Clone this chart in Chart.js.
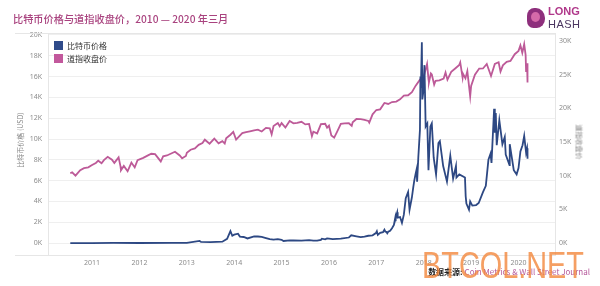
<!DOCTYPE html>
<html>
<head>
<meta charset="utf-8">
<script src="https://cdn.jsdelivr.net/npm/chart.js@4"></script>
<style>
  html, body { margin: 0; padding: 0; background: #fff; }
  #wrap { position: relative; width: 600px; height: 286px; overflow: hidden; font-family: "Noto Sans CJK SC", "Noto Sans", sans-serif; }
  #c { position: absolute; left: 0; top: 0; }
  .abs { position: absolute; white-space: nowrap; }
  #title { left: 13px; top: 11px; font-size: 10.2px; color: #a9437f; font-weight: 500; }
  .leg { font-size: 8px; color: #333; }
  .sw { position: absolute; width: 9px; height: 9px; }
  .axt { font-size: 7px; color: #888; transform-origin: center center; }
  #src { right: 10px; top: 266px; font-size: 8px; color: #b5589a; }
  #src b { color: #222; }
  #wm { left: 422px; top: 245px; font-family: "Liberation Sans", sans-serif; font-size: 37px; color: rgba(242,135,60,0.8); transform: scaleX(0.78); transform-origin: left top; }
  #logoIcon { left: 527px; top: 8px; width: 18px; height: 20px; background: #8e2f7c; border-radius: 40% 50% 45% 35%; }
  #logoIcon2 { left: 531px; top: 12px; width: 9px; height: 10px; background: #d56aa9; border-radius: 50%; }
  #lLong { left: 548px; top: 5px; font-family: "Liberation Sans", sans-serif; font-weight: bold; font-size: 11px; color: #b0388a; }
  #lHash { left: 548px; top: 18px; font-family: "Liberation Sans", sans-serif; font-size: 11px; color: #4a3560; letter-spacing: 0.5px; }
</style>
</head>
<body>
<div id="wrap">
  <canvas id="c" width="600" height="286"></canvas>
  <div class="abs" id="title">比特币价格与道指收盘价，2010 — 2020 年三月</div>
  <div class="abs" id="logoIcon"></div>
  <div class="abs" id="logoIcon2"></div>
  <div class="abs" id="lLong">LONG</div>
  <div class="abs" id="lHash">HASH</div>
  <div class="sw" style="left:54px;top:41px;background:#2f4b8a"></div>
  <div class="abs leg" style="left:67px;top:40px">比特币价格</div>
  <div class="sw" style="left:54px;top:54px;background:#c2589c"></div>
  <div class="abs leg" style="left:67px;top:53px">道指收盘价</div>
  <div class="abs axt" style="left:-8px;top:135px;transform:rotate(-90deg)">比特币价格 (USD)</div>
  <div class="abs axt" style="left:562px;top:137px;transform:rotate(90deg)">道指收盘价</div>
  <div class="abs" id="src"><b>数据来源:</b> Coin Metrics &amp; Wall Street Journal</div>
  <div class="abs" id="wm">BTCOL.NET</div>
</div>
<script>
// ---- data (decimal years) ----
const yearTicks = [2011, 2012, 2013, 2014, 2015, 2016, 2017, 2018, 2019, 2020];
const btcTicks = [0, 2000, 4000, 6000, 8000, 10000, 12000, 14000, 16000, 18000, 20000];
const dowTicks = [0, 5000, 10000, 15000, 20000, 25000, 30000];

const btcYears = [
  2010.54, 2011.0, 2011.45, 2012.0, 2012.67, 2013.0, 2013.27, 2013.3, 2013.5, 2013.75, 2013.85, 2013.92, 2013.96,
  2014.0, 2014.08, 2014.12, 2014.2, 2014.28, 2014.42, 2014.5, 2014.58, 2014.67, 2014.75, 2014.83, 2014.92,
  2015.0, 2015.04, 2015.17, 2015.25, 2015.42, 2015.5, 2015.58, 2015.67, 2015.75, 2015.83, 2015.85, 2015.92, 2015.96,
  2016.0, 2016.08, 2016.25, 2016.42, 2016.47, 2016.58, 2016.67, 2016.75, 2016.83, 2016.92, 2016.99,
  2017.01, 2017.03, 2017.08, 2017.14, 2017.17, 2017.19, 2017.21, 2017.23, 2017.25, 2017.29, 2017.33, 2017.37, 2017.40, 2017.405, 2017.41, 2017.44, 2017.45, 2017.50, 2017.54, 2017.58, 2017.62, 2017.67, 2017.70, 2017.75, 2017.78, 2017.80, 2017.83, 2017.85, 2017.86, 2017.885, 2017.92, 2017.93, 2017.94, 2017.96, 2017.97, 2017.99,
  2018.015, 2018.04, 2018.075, 2018.10, 2018.14, 2018.17, 2018.21, 2018.26, 2018.31, 2018.34, 2018.41, 2018.49, 2018.56, 2018.62, 2018.68, 2018.69, 2018.75, 2018.87, 2018.885, 2018.90, 2018.955, 2018.98,
  2019.025, 2019.105, 2019.16, 2019.25, 2019.31, 2019.365, 2019.41, 2019.43, 2019.485, 2019.50, 2019.52, 2019.54, 2019.595, 2019.66, 2019.71, 2019.73, 2019.81, 2019.815, 2019.90, 2019.96, 2020.00,
  2020.04, 2020.085, 2020.12, 2020.16, 2020.18, 2020.19
];
const btcPrice = [
  0.07, 0.3, 17, 5, 11, 13, 200, 110, 90, 130, 400, 1150, 700,
  800, 900, 620, 580, 440, 640, 630, 590, 480, 380, 330, 370,
  315, 200, 260, 245, 225, 260, 280, 230, 236, 310, 420, 350, 450,
  430, 380, 415, 530, 740, 650, 575, 610, 700, 740, 960,
  1140, 780, 980, 1050, 1280, 1100, 1080, 940, 1080, 1180, 1420, 1730, 2450, 2100, 2400, 2950, 2440, 2500, 1930, 2730, 4300, 4900, 3200, 4400, 5400, 6000, 6700, 7100, 5900, 8200, 10900, 16000, 14900, 19300, 13800, 14500,
  17100, 11200, 11500, 7000, 11200, 11500, 8200, 6600, 9600, 9800, 7400, 5900, 8400, 6200, 7400, 6300, 6600, 6300, 4500, 3800, 3200, 4000,
  3600, 3650, 3850, 4900, 5500, 8000, 8600, 7700, 12900, 10600, 12500, 9400, 11800, 9500, 10200, 8500, 7500, 9500, 7000, 6600, 7200,
  8800, 9400, 10300, 8700, 9100, 8100
];

const dowYears = [
  2010.54, 2010.58, 2010.65, 2010.75, 2010.83, 2010.92,
  2011.0, 2011.08, 2011.13, 2011.2, 2011.25, 2011.33, 2011.42, 2011.47, 2011.56, 2011.6, 2011.61, 2011.67, 2011.75, 2011.83, 2011.9, 2011.96,
  2012.08, 2012.17, 2012.25, 2012.33, 2012.42, 2012.45, 2012.5, 2012.58, 2012.75, 2012.85, 2012.9, 2012.98,
  2013.0, 2013.08, 2013.17, 2013.25, 2013.33, 2013.38, 2013.48, 2013.58, 2013.67, 2013.75, 2013.8, 2013.83, 2013.92, 2013.98,
  2014.04, 2014.17, 2014.25, 2014.33, 2014.42, 2014.5, 2014.58, 2014.67, 2014.75, 2014.79, 2014.83, 2014.92, 2014.96,
  2015.0, 2015.08, 2015.17, 2015.25, 2015.33, 2015.42, 2015.5, 2015.58, 2015.64, 2015.67, 2015.75, 2015.83, 2015.92, 2015.96,
  2016.0, 2016.05, 2016.11, 2016.17, 2016.25, 2016.33, 2016.42, 2016.48, 2016.5, 2016.58, 2016.67, 2016.75, 2016.83, 2016.85, 2016.92,
  2017.0, 2017.08, 2017.17, 2017.25, 2017.33, 2017.42, 2017.5, 2017.58, 2017.67, 2017.75, 2017.83, 2017.92,
  2018.0, 2018.07, 2018.1, 2018.11, 2018.15, 2018.17, 2018.22, 2018.25, 2018.33, 2018.42, 2018.46, 2018.5, 2018.58, 2018.67, 2018.75, 2018.77, 2018.82, 2018.83, 2018.88, 2018.92, 2018.98,
  2019.0, 2019.08, 2019.17, 2019.25, 2019.33, 2019.42, 2019.5, 2019.58, 2019.62, 2019.67, 2019.75, 2019.83, 2019.92,
  2020.0, 2020.04, 2020.08, 2020.12, 2020.15, 2020.16, 2020.18, 2020.19
];
const dowClose = [
  10360, 10500, 10010, 10830, 11120, 11250,
  11580, 11900, 12230, 11860, 12320, 12810, 12380, 11900, 12720, 11380, 10810, 11450, 10660, 11950, 11230, 12290,
  12650, 12980, 13260, 13210, 12390, 12100, 12880, 13010, 13560, 13000, 12590, 12940,
  13410, 13860, 14050, 14580, 14840, 15350, 14760, 15500, 14810, 15130, 14780, 15550, 16090, 16500,
  15370, 16320, 16460, 16580, 16720, 16830, 16560, 17100, 17040, 16140, 17390, 17830, 17360,
  17820, 17160, 18130, 17780, 17840, 18010, 17620, 17690, 15870, 16530, 16280, 17660, 17720, 17130,
  17430, 15990, 15660, 16520, 17690, 17770, 17790, 17400, 17930, 18430, 18400, 18310, 18140, 17890, 19120,
  19760, 19860, 20810, 20660, 20940, 21010, 21350, 21890, 21950, 22400, 23380, 24270,
  24720, 26620, 24350, 23860, 25200, 25030, 23530, 24100, 24160, 24420, 25320, 24270, 25420, 25960, 26460, 26830, 24580, 25120, 24460, 25540, 21790,
  23330, 25000, 25920, 25930, 26590, 24820, 26600, 26860, 25480, 26400, 26920, 27050, 28050,
  28540, 29350, 28260, 29550, 27960, 25410, 26700, 23850
];

// ---- chart ----
const tickFont = { family: "'Noto Sans', sans-serif", size: 7 };
const tickColor = '#8c8c8c';
const frameLines = {
  id: 'frameLines',
  afterDraw(chart) {
    const { ctx, chartArea: a } = chart;
    ctx.save();
    ctx.strokeStyle = '#e6e6e6';
    ctx.lineWidth = 1;
    ctx.beginPath();
    ctx.moveTo(15, a.top + 0.5); ctx.lineTo(a.right, a.top + 0.5);
    ctx.moveTo(15, a.bottom + 0.5); ctx.lineTo(a.right, a.bottom + 0.5);
    ctx.stroke();
    ctx.restore();
  }
};

new Chart(document.getElementById('c'), {
  type: 'line',
  data: {
    datasets: [
      {
        label: '比特币价格',
        data: btcYears.map((x, i) => ({ x, y: btcPrice[i] })),
        borderColor: '#2d4883',
        borderWidth: 1.8,
        pointRadius: 0,
        tension: 0,
        yAxisID: 'y'
      },
      {
        label: '道指收盘价',
        data: dowYears.map((x, i) => ({ x, y: dowClose[i] })),
        borderColor: '#bd5a98',
        borderWidth: 1.8,
        pointRadius: 0,
        tension: 0,
        yAxisID: 'y1'
      }
    ]
  },
  options: {
    responsive: false,
    devicePixelRatio: 1,
    animation: false,
    layout: { padding: { left: 0, right: 0, top: 33, bottom: 0 } },
    plugins: { legend: { display: false }, tooltip: { enabled: false } },
    scales: {
      x: {
        type: 'linear',
        min: 2010.07,
        max: 2020.77,
        afterBuildTicks: s => { s.ticks = yearTicks.map(v => ({ value: v })); },
        afterFit: s => { s.height = 31; },
        ticks: { font: tickFont, color: tickColor, padding: 4, maxRotation: 0, autoSkip: false, callback: v => String(v) },
        grid: { display: false, drawTicks: false },
        border: { display: false }
      },
      y: {
        position: 'left',
        min: -1150,
        max: 20190,
        afterBuildTicks: s => { s.ticks = btcTicks.map(v => ({ value: v })); },
        afterFit: s => { s.width = 48; },
        ticks: { font: tickFont, color: tickColor, padding: 6, callback: v => (v / 1000) + 'K' },
        grid: { color: '#efefef', drawTicks: false },
        border: { display: true, color: '#e6e6e6' }
      },
      y1: {
        position: 'right',
        min: -1780,
        max: 31200,
        afterBuildTicks: s => { s.ticks = dowTicks.map(v => ({ value: v })); },
        afterFit: s => { s.width = 45; },
        ticks: { font: tickFont, color: tickColor, padding: 4, callback: v => (v / 1000) + 'K' },
        grid: { display: false, drawTicks: false },
        border: { display: true, color: '#e6e6e6' }
      }
    }
  },
  plugins: [frameLines]
});
</script>
</body>
</html>
